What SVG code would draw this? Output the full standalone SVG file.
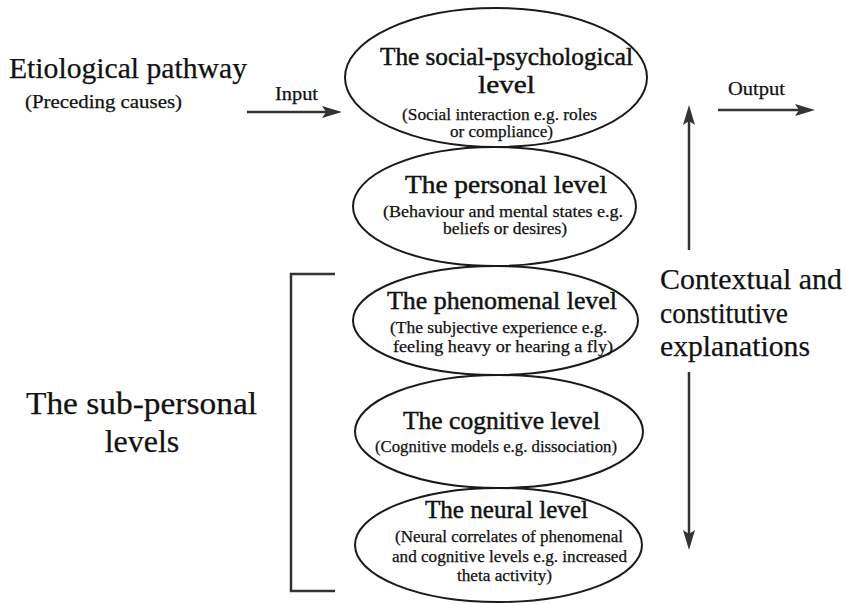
<svg xmlns="http://www.w3.org/2000/svg" width="846" height="604" viewBox="0 0 846 604">
<defs>
<style>
.tt{stroke:#111;stroke-width:0.45;}
.st{stroke:#111;stroke-width:0.25;}
</style>
<marker id="ah" viewBox="0 0 20 12" refX="8" refY="6" markerWidth="20" markerHeight="12" markerUnits="userSpaceOnUse" orient="auto">
<path d="M0,0 L20,6 L0,12 L4,6 z" fill="#333"/>
</marker>
</defs>
<rect width="846" height="604" fill="#fff"/>

<g id="etiological" fill="#111">
<text class="st" x="9" y="78" font-family="Liberation Serif" font-size="29" textLength="238" lengthAdjust="spacingAndGlyphs">Etiological pathway</text>
<text class="st" x="25" y="108" font-family="Liberation Serif" font-size="19" textLength="157" lengthAdjust="spacingAndGlyphs">(Preceding causes)</text>
</g>

<g id="sub-personal" fill="#111">
<text class="st" x="26" y="414" font-family="Liberation Serif" font-size="32" textLength="231" lengthAdjust="spacingAndGlyphs">The sub-personal</text>
<text class="st" x="142" y="452" font-family="Liberation Serif" font-size="32" text-anchor="middle">levels</text>
<path d="M335,274 H291 V591 H335" fill="none" stroke="#333" stroke-width="2.5"/>
</g>

<g id="contextual" fill="#111">
<text class="st" x="660" y="289" font-family="Liberation Serif" font-size="30" textLength="182" lengthAdjust="spacingAndGlyphs">Contextual and</text>
<text class="st" x="660" y="323" font-family="Liberation Serif" font-size="30" textLength="128" lengthAdjust="spacingAndGlyphs">constitutive</text>
<text class="st" x="660" y="356" font-family="Liberation Serif" font-size="30" textLength="150" lengthAdjust="spacingAndGlyphs">explanations</text>
</g>

<g id="social-psychological" fill="#111">
<ellipse cx="496" cy="77.5" rx="151" ry="69.5" fill="none" stroke="#1a1a1a" stroke-width="2"/>
<text class="tt" x="380" y="65" font-family="Liberation Serif" font-size="25" textLength="253" lengthAdjust="spacingAndGlyphs">The social-psychological</text>
<text class="tt" x="478" y="93" font-family="Liberation Serif" font-size="25" textLength="57" lengthAdjust="spacingAndGlyphs">level</text>
<text class="st" x="402" y="120" font-family="Liberation Serif" font-size="16" textLength="195" lengthAdjust="spacingAndGlyphs">(Social interaction e.g. roles</text>
<text class="st" x="450" y="137" font-family="Liberation Serif" font-size="16" textLength="103" lengthAdjust="spacingAndGlyphs">or compliance)</text>
</g>

<g id="personal" fill="#111">
<ellipse cx="494.5" cy="206.5" rx="141.5" ry="59.5" fill="none" stroke="#1a1a1a" stroke-width="2"/>
<text class="tt" x="405" y="193" font-family="Liberation Serif" font-size="25" textLength="202" lengthAdjust="spacingAndGlyphs">The personal level</text>
<text class="st" x="383" y="217" font-family="Liberation Serif" font-size="16" textLength="240" lengthAdjust="spacingAndGlyphs">(Behaviour and mental states e.g.</text>
<text class="st" x="443" y="234" font-family="Liberation Serif" font-size="16" textLength="124" lengthAdjust="spacingAndGlyphs">beliefs or desires)</text>
</g>

<g id="phenomenal" fill="#111">
<ellipse cx="495.5" cy="320.5" rx="142.5" ry="54.5" fill="none" stroke="#1a1a1a" stroke-width="2"/>
<text class="tt" x="387" y="309" font-family="Liberation Serif" font-size="25" textLength="230" lengthAdjust="spacingAndGlyphs">The phenomenal level</text>
<text class="st" x="390" y="333" font-family="Liberation Serif" font-size="16" textLength="217" lengthAdjust="spacingAndGlyphs">(The subjective experience e.g.</text>
<text class="st" x="393" y="352" font-family="Liberation Serif" font-size="16" textLength="220" lengthAdjust="spacingAndGlyphs">feeling heavy or hearing a fly)</text>
</g>

<g id="cognitive" fill="#111">
<ellipse cx="499" cy="431.5" rx="144" ry="56.5" fill="none" stroke="#1a1a1a" stroke-width="2"/>
<text class="tt" x="403" y="429" font-family="Liberation Serif" font-size="25" textLength="197" lengthAdjust="spacingAndGlyphs">The cognitive level</text>
<text class="st" x="375" y="452" font-family="Liberation Serif" font-size="16" textLength="242" lengthAdjust="spacingAndGlyphs">(Cognitive models e.g. dissociation)</text>
</g>

<g id="neural" fill="#111">
<ellipse cx="498.5" cy="545" rx="143.5" ry="57" fill="none" stroke="#1a1a1a" stroke-width="2"/>
<text class="tt" x="425" y="518" font-family="Liberation Serif" font-size="25" textLength="163" lengthAdjust="spacingAndGlyphs">The neural level</text>
<text class="st" x="395" y="542" font-family="Liberation Serif" font-size="16" textLength="228" lengthAdjust="spacingAndGlyphs">(Neural correlates of phenomenal</text>
<text class="st" x="392" y="562" font-family="Liberation Serif" font-size="16" textLength="235" lengthAdjust="spacingAndGlyphs">and cognitive levels e.g. increased</text>
<text class="st" x="457" y="581" font-family="Liberation Serif" font-size="16" textLength="95" lengthAdjust="spacingAndGlyphs">theta activity)</text>
</g>

<g id="connectors" fill="none" stroke="#333" stroke-width="2.5">
<line x1="247" y1="112" x2="330" y2="112" marker-end="url(#ah)"/>
<line x1="718" y1="110" x2="803" y2="110" marker-end="url(#ah)"/>
<line x1="689" y1="250" x2="689" y2="117" marker-end="url(#ah)"/>
<line x1="689" y1="372" x2="689" y2="538" marker-end="url(#ah)"/>
</g>
<g id="connector-labels" fill="#111">
<text class="st" x="275" y="100" font-family="Liberation Serif" font-size="19" textLength="43" lengthAdjust="spacingAndGlyphs">Input</text>
<text class="st" x="728" y="95" font-family="Liberation Serif" font-size="19" textLength="57" lengthAdjust="spacingAndGlyphs">Output</text>
</g>
</svg>
